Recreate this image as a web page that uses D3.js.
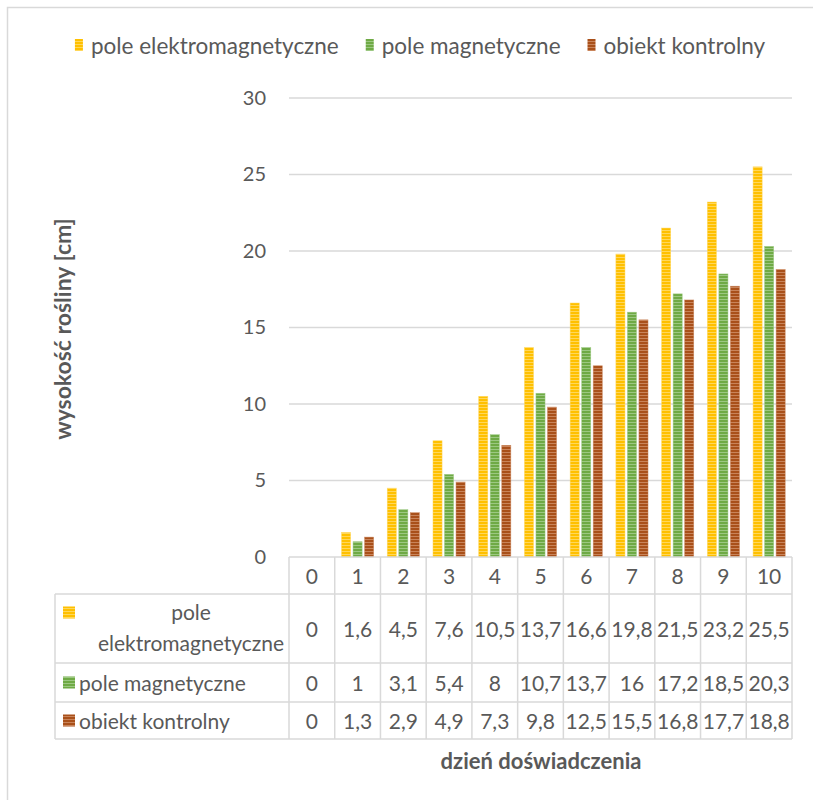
<!DOCTYPE html>
<html>
<head>
<meta charset="utf-8">
<script src="https://cdn.jsdelivr.net/npm/d3@7"></script>
<style>
  html, body { margin: 0; padding: 0; background: #fff; }
  svg { display: block; font-family: Lato, "Open Sans", sans-serif; }
</style>
</head>
<body>
<svg id="chart" width="813" height="800"></svg>
<script>
// Days of the experiment (categories)
const days = [0, 1, 2, 3, 4, 5, 6, 7, 8, 9, 10];

// Plant height [cm] for each treatment
const emField = [0, 1.6, 4.5, 7.6, 10.5, 13.7, 16.6, 19.8, 21.5, 23.2, 25.5];
const magField = [0, 1, 3.1, 5.4, 8, 10.7, 13.7, 16, 17.2, 18.5, 20.3];
const control = [0, 1.3, 2.9, 4.9, 7.3, 9.8, 12.5, 15.5, 16.8, 17.7, 18.8];

const seriesNames = ["pole elektromagnetyczne", "pole magnetyczne", "obiekt kontrolny"];
const yTicks = [0, 5, 10, 15, 20, 25, 30];

const series = [
  { key: "em", name: seriesNames[0], values: emField, base: "#FFC000", stripe: "#FFD75A" },
  { key: "mag", name: seriesNames[1], values: magField, base: "#6FAA45", stripe: "#9CC882" },
  { key: "ctrl", name: seriesNames[2], values: control, base: "#A9501A", stripe: "#C9845A" }
];

const textColor = "#595959";
const gridColor = "#d9d9d9";

const svg = d3.select("#chart");

// Striped fills for the bars
const defs = svg.append("defs");
series.forEach(s => {
  const p = defs.append("pattern")
    .attr("id", "pat-" + s.key)
    .attr("patternUnits", "userSpaceOnUse")
    .attr("width", 6).attr("height", 3);
  p.append("rect").attr("width", 6).attr("height", 3).attr("fill", s.base);
  p.append("rect").attr("y", 2).attr("width", 6).attr("height", 1).attr("fill", s.stripe);
});

// Chart frame
svg.append("rect")
  .attr("x", 7.5).attr("y", 7.5)
  .attr("width", 900).attr("height", 900)
  .attr("fill", "none").attr("stroke", gridColor).attr("stroke-width", 1.5);

// Layout
const plotLeft = 289, plotRight = 792, plotTop = 98, plotBottom = 557;
const labelLeft = 55;
const rowLines = [557, 594, 663, 702, 739];

const x = d3.scaleBand().domain(days).range([plotLeft, plotRight]).paddingInner(0).paddingOuter(0);
const y = d3.scaleLinear().domain([0, 30]).range([plotBottom, plotTop]);

const col = x.bandwidth();
const barW = col / 5.04;
const groupW = 3 * barW + 2 * 0.27 * barW;
const x1 = d3.scaleBand()
  .domain(series.map(s => s.key))
  .range([(col - groupW) / 2, (col + groupW) / 2])
  .paddingInner(0.27 / 1.27)
  .paddingOuter(0);

// Horizontal gridlines
svg.append("g")
  .selectAll("line")
  .data(yTicks.filter(t => t > 0))
  .join("line")
  .attr("x1", plotLeft).attr("x2", plotRight)
  .attr("y1", d => y(d)).attr("y2", d => y(d))
  .attr("stroke", gridColor).attr("stroke-width", 1.5);

// Y axis tick labels
const yAxis = d3.axisLeft(y).tickValues(yTicks).tickSize(0).tickPadding(0).tickFormat(d3.format("d"));
const yg = svg.append("g").attr("transform", `translate(266,0)`).call(yAxis);
yg.select(".domain").remove();
yg.selectAll("text")
  .attr("fill", textColor)
  .style("font-size", "20px")
  .style("font-family", "Lato, sans-serif");

// Bars
const groups = svg.append("g")
  .selectAll("g")
  .data(days)
  .join("g")
  .attr("transform", d => `translate(${x(d)},0)`);

groups.selectAll("rect")
  .data((d, i) => series.map(s => ({ s, v: s.values[i] })))
  .join("rect")
  .attr("x", d => x1(d.s.key))
  .attr("width", x1.bandwidth())
  .attr("y", d => y(d.v))
  .attr("height", d => y(0) - y(d.v))
  .attr("fill", d => `url(#pat-${d.s.key})`)
  .attr("stroke", d => d.s.stripe)
  .attr("stroke-width", 0.6)
  .attr("stroke-opacity", d => d.v > 0 ? 0.8 : 0);

// Data table grid
const tg = svg.append("g").attr("stroke", gridColor).attr("stroke-width", 1.5);
tg.append("line").attr("x1", plotLeft).attr("x2", plotRight).attr("y1", rowLines[0]).attr("y2", rowLines[0]);
rowLines.slice(1).forEach(yy => {
  tg.append("line").attr("x1", labelLeft).attr("x2", plotRight).attr("y1", yy).attr("y2", yy);
});
tg.append("line").attr("x1", labelLeft).attr("x2", labelLeft).attr("y1", rowLines[1]).attr("y2", rowLines[4]);
days.forEach(d => {
  tg.append("line").attr("x1", x(d)).attr("x2", x(d)).attr("y1", rowLines[0]).attr("y2", rowLines[4]);
});
tg.append("line").attr("x1", plotRight).attr("x2", plotRight).attr("y1", rowLines[0]).attr("y2", rowLines[4]);

const fmt = v => String(v).replace(".", ",");

// Table header (day numbers)
svg.append("g").selectAll("text")
  .data(days)
  .join("text")
  .attr("x", d => x(d) + col / 2)
  .attr("y", (rowLines[0] + rowLines[1]) / 2)
  .attr("text-anchor", "middle").attr("dominant-baseline", "central")
  .attr("fill", textColor).style("font-size", "21px")
  .text(d => d);

// Table values
series.forEach((s, si) => {
  const cy = (rowLines[si + 1] + rowLines[si + 2]) / 2;
  svg.append("g").selectAll("text")
    .data(s.values)
    .join("text")
    .attr("x", (v, i) => x(days[i]) + col / 2)
    .attr("y", cy)
    .attr("text-anchor", "middle").attr("dominant-baseline", "central")
    .attr("fill", textColor).style("font-size", "21px")
    .text(v => fmt(v));

  // Row key
  svg.append("rect")
    .attr("x", 63).attr("y", cy - 6 + (si === 0 ? -16 : 0))
    .attr("width", 12).attr("height", 12)
    .attr("fill", `url(#pat-${s.key})`);
});

// Row labels
const rowLabels = svg.append("g").attr("fill", textColor).style("font-size", "21px");
rowLabels.append("text").attr("x", 191).attr("y", 611).attr("text-anchor", "middle")
  .attr("dominant-baseline", "central").text("pole");
rowLabels.append("text").attr("x", 191).attr("y", 642).attr("text-anchor", "middle")
  .attr("dominant-baseline", "central").text("elektromagnetyczne");
rowLabels.append("text").attr("x", 79).attr("y", (rowLines[2] + rowLines[3]) / 2)
  .attr("dominant-baseline", "central").text(seriesNames[1]);
rowLabels.append("text").attr("x", 79).attr("y", (rowLines[3] + rowLines[4]) / 2)
  .attr("dominant-baseline", "central").text(seriesNames[2]);

// Axis titles
svg.append("text")
  .attr("x", 541).attr("y", 760)
  .attr("text-anchor", "middle").attr("dominant-baseline", "central")
  .attr("fill", textColor).style("font-size", "22px").style("font-weight", "bold")
  .text("dzień doświadczenia");

svg.append("text")
  .attr("transform", "translate(62,329) rotate(-90)")
  .attr("text-anchor", "middle").attr("dominant-baseline", "central")
  .attr("fill", textColor).style("font-size", "23px").style("font-weight", "bold")
  .text("wysokość rośliny [cm]");

// Legend (laid out left to right, centred)
const legend = svg.append("g");
const items = legend.selectAll("g").data(series).join("g");
items.append("rect")
  .attr("width", 8).attr("height", 12).attr("y", -6)
  .attr("fill", d => `url(#pat-${d.key})`);
items.append("text")
  .attr("x", 16).attr("dominant-baseline", "central")
  .attr("fill", textColor).style("font-size", "22.5px")
  .text(d => d.name);
let cursor = 0;
const widths = [];
items.each(function () {
  const w = 16 + d3.select(this).select("text").node().getComputedTextLength();
  widths.push(w);
});
const gap = 27;
const total = d3.sum(widths) + gap * (widths.length - 1);
cursor = 420 - total / 2;
items.attr("transform", (d, i) => {
  const t = `translate(${cursor},45)`;
  cursor += widths[i] + gap;
  return t;
});
</script>
</body>
</html>
